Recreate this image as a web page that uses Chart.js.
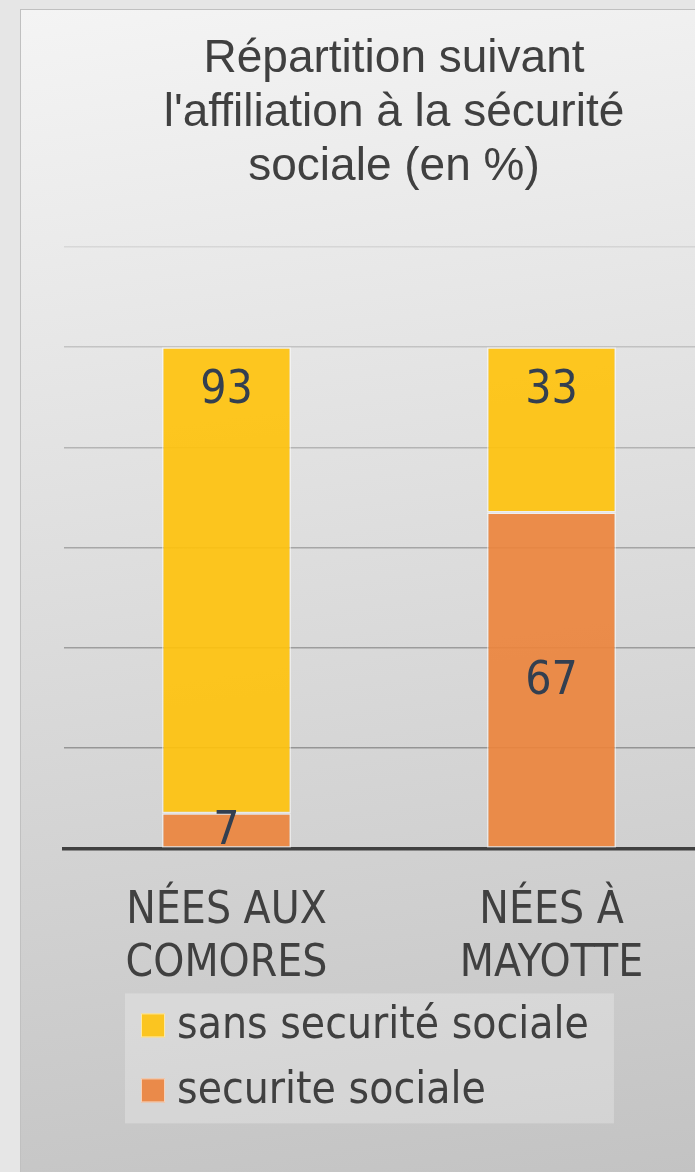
<!DOCTYPE html>
<html>
<head>
<meta charset="utf-8">
<script src="https://cdn.jsdelivr.net/npm/chart.js@4"></script>
<style>
  html, body { margin: 0; padding: 0; background: #e6e6e6; overflow: hidden; }
  #panel {
    position: absolute; left: 20px; top: 9px; width: 746px; height: 1180px;
    border: 1px solid #c0c0c0;
    background: linear-gradient(172deg, #f4f4f4 0%, #c2c2c2 100%);
  }
  #chart { display: block; }
</style>
</head>
<body>
<div id="panel"><canvas id="chart" width="746" height="1162"></canvas></div>
<script>
// données
const titleLines = ['Répartition suivant', "l'affiliation à la sécurité", 'sociale (en %)'];
const categories = [['NÉES AUX', 'COMORES'], ['NÉES À', 'MAYOTTE']];
const seriesNames = ['securite sociale', 'sans securité sociale'];
const avecSecu = [7, 67];
const sansSecu = [93, 33];

const cond = '"DejaVu Sans Condensed", "Liberation Sans", sans-serif';
const sans = '"Liberation Sans", Arial, sans-serif';

// étiquettes de valeur sur les barres
const valueLabels = {
    id: 'valueLabels',
    afterDatasetsDraw(chart) {
        const ctx = chart.ctx;
        ctx.save();
        ctx.font = '46px ' + cond;
        ctx.fillStyle = '#333f50';
        ctx.textAlign = 'center';
        ctx.textBaseline = 'middle';
        chart.data.datasets.forEach((ds, di) => {
            chart.getDatasetMeta(di).data.forEach((bar, i) => {
                const y = ds.labelAt === 'end' ? bar.y + 44 : (bar.y + bar.base) / 2 + 2;
                ctx.fillText(ds.data[i], bar.x, y);
            });
        });
        ctx.restore();
    }
};

// légende dans un cadre, alignée à gauche
const legendBox = {
    id: 'legendBox',
    afterDraw(chart) {
        const ctx = chart.ctx;
        const items = chart.data.datasets.slice().reverse();
        const left = chart.chartArea.left + 61;
        const top = chart.chartArea.bottom + 145;
        ctx.save();
        ctx.font = '44px ' + cond;
        let w = 0;
        items.forEach(ds => { w = Math.max(w, ctx.measureText(ds.label).width); });
        ctx.fillStyle = 'rgba(255,255,255,0.25)';
        ctx.fillRect(left, top, w + 52 + 25, 130);
        ctx.textBaseline = 'middle';
        items.forEach((ds, i) => {
            const cy = top + 32 + i * 65;
            ctx.fillStyle = ds.swatch;
            ctx.fillRect(left + 16, cy - 12, 24, 24);
            ctx.strokeStyle = 'rgba(255,255,255,0.6)';
            ctx.lineWidth = 1;
            ctx.strokeRect(left + 16.5, cy - 11.5, 23, 23);
            ctx.fillStyle = '#404040';
            ctx.fillText(ds.label, left + 52, cy + 1);
        });
        ctx.restore();
    }
};

const gridAlpha = { 0: 0, 20: 0.3, 40: 0.28, 60: 0.25, 80: 0.2, 100: 0.15, 120: 0.08 };

new Chart(document.getElementById('chart'), {
    type: 'bar',
    data: {
        labels: categories,
        datasets: [
            {
                label: seriesNames[0],
                data: avecSecu,
                backgroundColor: 'rgba(236,131,58,0.9)',
                swatch: '#ea8a4a',
                borderColor: 'rgba(255,255,255,0.5)',
                borderWidth: 1.5,
                borderSkipped: false,
                labelAt: 'center'
            },
            {
                label: seriesNames[1],
                data: sansSecu,
                backgroundColor: 'rgba(255,194,9,0.9)',
                swatch: '#fbc520',
                borderColor: 'rgba(255,255,255,0.5)',
                borderWidth: 1.5,
                borderSkipped: false,
                labelAt: 'end'
            }
        ]
    },
    options: {
        responsive: false,
        animation: false,
        barPercentage: 0.397,
        categoryPercentage: 1,
        layout: { padding: { left: 43, right: 43, top: 0, bottom: 144 } },
        scales: {
            x: {
                stacked: true,
                grid: { display: false, drawTicks: false },
                border: { display: true, color: '#404040', width: 3.5 },
                ticks: {
                    color: '#404040',
                    padding: 37,
                    maxRotation: 0,
                    autoSkip: false,
                    font: { family: cond, size: 44, lineHeight: 1.2 }
                }
            },
            y: {
                stacked: true,
                position: 'right',
                min: 0,
                max: 120,
                ticks: { display: false, stepSize: 20 },
                border: { display: false },
                grid: {
                    drawTicks: false,
                    lineWidth: 1.5,
                    color: c => 'rgba(0,0,0,' + (gridAlpha[c.tick.value] ?? 0.2) + ')'
                },
                afterFit: s => { s.width = 10; }
            }
        },
        plugins: {
            legend: { display: false },
            tooltip: { enabled: false },
            title: {
                display: true,
                text: titleLines,
                color: '#404040',
                font: { family: sans, size: 46, weight: 'normal', lineHeight: 54 / 46 },
                padding: { top: 22, bottom: 53 }
            }
        }
    },
    plugins: [valueLabels, legendBox]
});
</script>
</body>
</html>
